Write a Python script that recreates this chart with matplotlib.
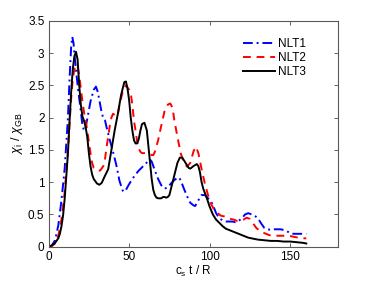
import matplotlib
matplotlib.use("Agg")
import matplotlib.pyplot as plt

plt.rcParams['font.family'] = ['Liberation Sans', 'DejaVu Sans']
plt.rcParams['mathtext.fontset'] = 'custom'
plt.rcParams['mathtext.rm'] = 'Liberation Sans'
plt.rcParams['mathtext.it'] = 'Liberation Sans:italic'

# NLT1 (blue, dash-dot)
t1 = [0, 2, 4, 6, 8, 10, 12, 13, 14, 14.7, 15.5, 16, 17, 18, 19, 20, 21, 22, 23, 24, 26, 28, 29.4,
      30.5, 31.5, 33, 34, 35, 36, 38, 40, 42, 44, 46, 47, 48, 50, 52, 54, 56, 58, 60, 62, 63, 64, 66,
      68, 70, 72, 74, 76, 78, 80, 81, 82, 84, 86, 88, 90, 91, 93, 95, 97, 99, 100.4, 102, 104, 106,
      108, 110, 112, 114, 116, 118, 120, 122, 124, 126, 128, 130, 132, 134, 136, 138, 140, 142, 144,
      146, 148, 150, 152, 154, 156, 158, 160]
y1 = [0, 0.02, 0.1, 0.33, 0.72, 1.22, 2.0, 2.6, 3.1, 3.25, 3.15, 3.0, 2.74, 2.5, 2.3, 2.1, 1.88, 1.8,
      1.85, 1.98, 2.25, 2.43, 2.48, 2.4, 2.27, 2.07, 1.99, 1.96, 1.85, 1.65, 1.47, 1.27, 1.02, 0.87,
      0.85, 0.88, 0.97, 1.05, 1.12, 1.18, 1.23, 1.28, 1.33, 1.35, 1.32, 1.18, 1.05, 0.95, 0.9, 0.92,
      0.98, 1.03, 1.07, 1.07, 1.03, 0.9, 0.78, 0.68, 0.64, 0.63, 0.72, 0.8, 0.8, 0.75, 0.72, 0.65,
      0.52, 0.44, 0.41, 0.39, 0.39, 0.39, 0.38, 0.4, 0.44, 0.5, 0.52, 0.5, 0.48, 0.44, 0.36, 0.29,
      0.27, 0.26, 0.27, 0.27, 0.27, 0.26, 0.24, 0.21, 0.2, 0.2, 0.2, 0.2, 0.2]

# NLT2 (red, dashed)
t2 = [0, 2, 4, 6, 8, 10, 12, 14, 15, 16, 17, 18, 19, 20, 21, 22, 23, 24, 25, 26, 27, 28, 30, 32,
      34, 35, 36, 37, 38, 39, 40, 42, 43, 44, 46, 48, 50, 51, 52, 53, 54, 55, 56, 57, 58, 60, 62,
      64, 65, 66, 68, 70, 72, 74, 75.5, 77, 78, 80, 82, 84, 86, 88, 90, 91.5, 93, 95, 97, 99, 101,
      103, 105, 107, 109, 111, 113, 115, 117, 119, 121, 123, 125, 127, 129, 131, 133, 135, 137, 139,
      141, 143, 145, 147, 149, 151, 153, 155, 157, 159, 160]
y2 = [0, 0.01, 0.05, 0.17, 0.42, 0.85, 1.5, 2.3, 2.6, 2.75, 2.82, 2.8, 2.65, 2.45, 2.25, 2.08, 1.95,
      1.8, 1.62, 1.45, 1.3, 1.22, 1.18, 1.18, 1.25, 1.35, 1.55, 1.7, 1.88, 2.0, 2.06, 2.02, 2.05,
      2.2, 2.4, 2.5, 2.43, 2.38, 2.2, 1.95, 1.8, 1.62, 1.52, 1.47, 1.45, 1.45, 1.44, 1.42, 1.42,
      1.47, 1.65, 1.88, 2.1, 2.2, 2.22, 2.15, 1.97, 1.7, 1.45, 1.3, 1.24, 1.3, 1.48, 1.55, 1.45,
      1.2, 0.98, 0.8, 0.66, 0.56, 0.52, 0.48, 0.47, 0.45, 0.43, 0.42, 0.4, 0.4, 0.42, 0.45, 0.43,
      0.36, 0.29, 0.25, 0.22, 0.2, 0.18, 0.17, 0.17, 0.17, 0.17, 0.17, 0.17, 0.16, 0.15, 0.14,
      0.13, 0.13, 0.13]

# NLT3 (black, solid)
t3 = [0, 2, 4, 6, 7, 8, 9, 10, 11, 12, 13, 14, 15, 16, 17, 18, 19, 20, 21, 22, 23, 24, 25, 26, 27,
      28, 30, 31.5, 33, 35, 37, 38, 39, 41, 43, 45, 47, 48, 49, 50, 51, 52, 53, 54, 55, 56, 57, 58,
      59.5, 61, 62, 63, 64, 65, 66, 67, 68, 70, 71, 72, 73, 74, 75, 76, 78, 80, 81.5, 83, 85, 87,
      88, 90, 92, 93, 94, 95, 96, 98, 100, 102, 104, 106, 108, 110, 112, 114, 116, 118, 120, 122,
      124, 126, 128, 130, 134, 138, 142, 146, 150, 154, 158, 160]
y3 = [0, 0.02, 0.06, 0.13, 0.2, 0.32, 0.49, 0.75, 1.1, 1.45, 1.95, 2.4, 2.75, 2.95, 3.02, 2.9, 2.5,
      2.2, 2.02, 1.95, 1.85, 1.7, 1.45, 1.25, 1.12, 1.05, 0.98, 0.96, 0.99, 1.1, 1.2, 1.35, 1.5,
      1.8, 2.06, 2.35, 2.55, 2.56, 2.45, 2.27, 2.0, 1.8, 1.65, 1.6, 1.6, 1.67, 1.8, 1.9, 1.92, 1.8,
      1.55, 1.3, 1.05, 0.88, 0.8, 0.76, 0.75, 0.75, 0.77, 0.77, 0.76, 0.77, 0.8, 0.9, 1.1, 1.3,
      1.38, 1.38, 1.3, 1.22, 1.21, 1.25, 1.28, 1.25, 1.15, 1.0, 0.9, 0.77, 0.62, 0.5, 0.42, 0.37,
      0.32, 0.28, 0.26, 0.24, 0.22, 0.2, 0.18, 0.16, 0.14, 0.13, 0.12, 0.11, 0.1, 0.09, 0.09, 0.08,
      0.08, 0.07, 0.06, 0.05]

labels = ['NLT1', 'NLT2', 'NLT3']
xticks = [0, 50, 100, 150]
yticks = [0, 0.5, 1, 1.5, 2, 2.5, 3, 3.5]
yticklabels = ['0', '0.5', '1', '1.5', '2', '2.5', '3', '3.5']

fig = plt.figure(figsize=(3.74, 2.81), dpi=100)
ax = fig.add_axes([0.130, 0.122, 0.775, 0.804])

ax.plot(t1, y1, color=(0, 0, 1), lw=1.4, linestyle=(0, (5, 2, 1, 2)), label=labels[0])
ax.plot(t2, y2, color=(1, 0, 0), lw=1.4, linestyle=(0, (4, 3)), label=labels[1])
ax.plot(t3, y3, color='black', lw=1.4, linestyle='-', label=labels[2])

ax.set_xlim(0, 180)
ax.set_ylim(0, 3.5)
ax.set_xticks(xticks)
ax.set_xticklabels([str(v) for v in xticks])
ax.set_yticks(yticks)
ax.set_yticklabels(yticklabels)
ax.tick_params(direction='in', top=True, right=True, length=3, width=0.6,
               labelsize=8.5, color='0.3', pad=3)
for s in ax.spines.values():
    s.set_color('0.35')
    s.set_linewidth(0.8)

ax.set_xlabel(r'c$_\mathregular{s}$ t / R', fontsize=8.5, labelpad=1)
ax.set_ylabel(r'$\chi_\mathregular{i}$ / $\chi_\mathregular{GB}$', fontsize=9, labelpad=2)

leg = ax.legend(loc='upper left', frameon=False, fontsize=8.5, handlelength=2.7,
                handletextpad=0.25, labelspacing=0.2, borderaxespad=0, borderpad=0,
                bbox_to_anchor=(0.671, 0.925))

fig.savefig('out.png', dpi=100)
